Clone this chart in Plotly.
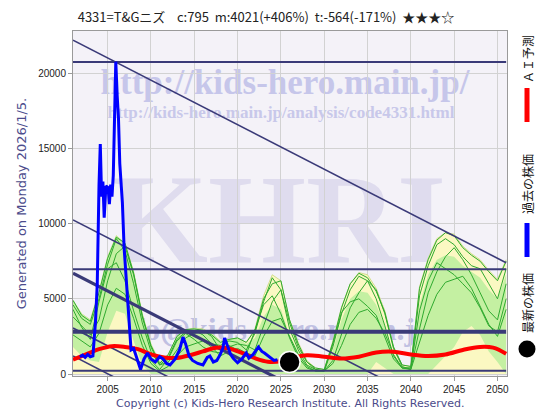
import plotly.graph_objects as go

# ---------------- data ----------------
YEARS = list(range(2001, 2052))

YEL_TOP = [4900, 4000, 3600, 5500, 7800, 9200, 8700, 6800, 4000, 2000,
           800, 1300, 2500, 2950, 3050, 3000, 2700, 2200, 2300, 2400,
           2100, 3000, 5200, 6600, 6200, 3600, 2100, 900, 400, 300,
           2200, 4450, 6000, 6750, 6600, 5700, 4200, 1800, 600, 500,
           5800, 7700, 9000, 9400, 9300, 8500, 8000, 7600, 6900, 6300, 7600]
GRN_HI = [4900, 4000, 3600, 5500, 7800, 9200, 8700, 6800, 4000, 2000,
          800, 1300, 2500, 2950, 3050, 3000, 2700, 2200, 2300, 2400,
          2000, 2400, 3800, 4600, 4300, 2600, 1500, 600, 300, 200,
          1600, 3600, 5000, 5500, 5400, 4600, 3200, 1300, 400, 400,
          4600, 6600, 7600, 7900, 7800, 7200, 6800, 6400, 5600, 5000, 6600]
GRN_LO = [1800, 1200, 900, 800, 2800, 4200, 4000, 2200, 600, 0,
          0, 0, 0, 0, 0, 0, 0, 0, 0, 0,
          0, 0, 0, 0, 0, 0, 0, 0, 0, 0,
          0, 0, 0, 0, 0, 800, 400, 0, 0, 0,
          0, 0, 600, 1200, 1800, 2800, 3200, 2600, 1500, 800, 0]

SIM_1 = [4600, 3700, 3300, 5000, 7300, 9000, 8200, 6000, 3400, 1500,
         600, 1100, 2300, 2800, 2900, 2600, 2000, 1900, 2200, 2100,
         1600, 2700, 4800, 6400, 5600, 3000, 1600, 600, 300, 200,
         1800, 4000, 5600, 6500, 6200, 5000, 3200, 1200, 400, 400,
         5200, 7200, 8600, 9000, 8600, 7800, 7200, 7000, 6000, 5000, 7000]
SIM_2 = [3800, 3200, 2600, 3600, 6200, 8000, 8500, 6600, 3800, 1800,
         600, 800, 1600, 2400, 2700, 2900, 2500, 1600, 1800, 2000,
         1900, 1600, 3200, 4800, 5600, 3400, 1800, 800, 300, 200,
         900, 2600, 4400, 5400, 6200, 5600, 4000, 1700, 500, 300,
         3000, 5400, 6800, 7800, 8400, 7600, 6600, 5400, 4200, 3600, 6000]
SIM_3 = [4300, 3100, 2300, 4800, 7000, 7400, 6200, 4200, 2400, 900,
         300, 1000, 2200, 2700, 2300, 1800, 1500, 1400, 1900, 1600,
         1300, 2900, 4600, 5200, 4000, 2400, 1100, 400, 200, 200,
         2000, 4100, 4800, 5000, 4500, 3900, 2500, 1000, 400, 400,
         4200, 6200, 7400, 7000, 6600, 6000, 5400, 4400, 3200, 2800, 5000]
SIM_4 = [2600, 2200, 1800, 2700, 4600, 5700, 5300, 3700, 1900, 700,
         200, 500, 1200, 1800, 2000, 2200, 1800, 1200, 1500, 1700,
         1400, 1200, 2500, 3500, 3700, 2500, 1300, 500, 200, 200,
         700, 1900, 3300, 4100, 4300, 3700, 2700, 1300, 400, 300,
         2100, 3900, 5300, 6100, 6300, 6500, 5700, 4500, 3300, 2500, 4300]
SIM_5 = [4900, 3900, 3500, 5400, 7700, 9100, 8700, 6700, 3900, 1900,
         700, 1300, 2500, 2950, 3000, 2900, 2600, 2100, 2300, 2400,
         2100, 2900, 5000, 6000, 6200, 3600, 2000, 800, 400, 300,
         2100, 4400, 6000, 6700, 6400, 5500, 4100, 1800, 600, 500,
         5700, 7600, 8900, 9400, 9200, 8400, 7900, 7500, 6800, 6200, 7500]
SIMS = [SIM_1, SIM_2, SIM_3, SIM_4, SIM_5]

RED_X = [2001, 2002.5, 2004, 2005.5, 2007, 2008.5, 2010, 2011.5, 2013, 2014.5,
         2016, 2017.5, 2019, 2020.5, 2022, 2023.5, 2025, 2026.5, 2028, 2030,
         2032, 2034, 2036, 2038, 2040, 2042, 2044, 2046, 2048, 2049.5, 2051]
RED_Y = [950, 1300, 1650, 1850, 1800, 1650, 1300, 1100, 1070, 1250,
         1500, 1750, 1700, 1400, 1050, 820, 850, 1100, 1250, 1150,
         1030, 1150, 1430, 1480, 1300, 1200, 1300, 1600, 1800, 1750, 1350]

BLUE_X = [2001.8, 2002.1, 2002.4, 2002.7, 2003.0, 2003.3, 2003.6, 2003.8, 2004.0, 2004.15,
          2004.3, 2004.45, 2004.6, 2004.8, 2005.05, 2005.2, 2005.35, 2005.5, 2005.65, 2005.8,
          2005.94, 2006.1, 2006.25, 2006.4, 2006.55, 2006.7, 2006.9, 2007.25, 2007.55, 2007.7,
          2008.0, 2008.4, 2008.8, 2009.2, 2009.6, 2010.0, 2010.5, 2011.0, 2011.4, 2011.8,
          2012.2, 2012.8, 2013.3, 2013.7, 2014.0, 2014.4, 2014.8, 2015.4, 2016.0, 2016.5,
          2016.8, 2017.2, 2017.6, 2018.0, 2018.3, 2018.5, 2018.8, 2019.2, 2019.5, 2020.0,
          2020.5, 2021.0, 2021.3, 2021.8, 2022.4, 2022.8, 2023.1, 2023.7, 2024.2, 2024.6]
BLUE_Y = [1150, 1250, 1100, 1300, 1150, 1200, 3500, 6000, 12500, 15300,
          11800, 12800, 10400, 12500, 12400, 11300, 12600, 11800, 13200, 17000,
          20770, 18500, 17000, 14000, 12800, 11400, 8400, 5100, 2500, 1600,
          1700, 1000, 300, 1000, 1400, 1000, 800, 1150, 1000, 700,
          600, 1000, 1600, 2450, 2000, 1200, 900, 700, 600, 1100,
          1200, 800, 900, 1300, 1700, 2400, 1900, 1300, 1050, 750,
          1000, 1400, 1050, 1300, 1800, 1500, 1400, 1150, 900, 950]

LATEST_X = [2026.0]
LATEST_Y = [795]

HLINES = [20750, 6960, 2810, 220]
HLINE_W = [2, 2, 4, 2]
DIAG_X = [2001, 2051]
DIAGS = [[22200, 7400], [10250, -4550], [6700, -8100], [3060, -11740], [1200, -13600]]
DIAG_W = [1.6, 1.6, 3.2, 1.6, 1.6]

X_TICKS = [2005, 2010, 2015, 2020, 2025, 2030, 2035, 2040, 2045, 2050]
Y_TICKS = [0, 5000, 10000, 15000, 20000]

TITLE = "4331=T&amp;Gニズ\u00a0\u00a0\u00a0 c:795\u00a0\u00a0m:4021(+406%)\u00a0\u00a0t:-564(-171%)\u00a0\u00a0★★★☆"

NAVY = '#3a3a78'

fig = go.Figure()

# yellow envelope
fig.add_trace(go.Scatter(x=YEARS, y=YEL_TOP, mode='lines', fill='tozeroy',
                         fillcolor='#fbf8c2', line=dict(color='#c8d878', width=0.8)))
# green band
fig.add_trace(go.Scatter(x=YEARS, y=GRN_LO, mode='lines', line=dict(width=0, color='rgba(0,0,0,0)')))
fig.add_trace(go.Scatter(x=YEARS, y=GRN_HI, mode='lines', fill='tonexty',
                         fillcolor='#c4f0a2', line=dict(width=0, color='rgba(0,0,0,0)')))
for s in SIMS:
    fig.add_trace(go.Scatter(x=YEARS, y=s, mode='lines', line=dict(color='#2faa2f', width=1)))

for h, w in zip(HLINES, HLINE_W):
    fig.add_trace(go.Scatter(x=DIAG_X, y=[h, h], mode='lines', line=dict(color=NAVY, width=w)))
for d, w in zip(DIAGS, DIAG_W):
    fig.add_trace(go.Scatter(x=DIAG_X, y=d, mode='lines', line=dict(color=NAVY, width=w)))

fig.add_trace(go.Scatter(x=RED_X, y=RED_Y, mode='lines', line=dict(color='#ff0000', width=4, shape='spline')))
fig.add_trace(go.Scatter(x=BLUE_X, y=BLUE_Y, mode='lines', line=dict(color='#0000ff', width=3)))
fig.add_trace(go.Scatter(x=LATEST_X, y=LATEST_Y, mode='markers',
                         marker=dict(color='black', size=21, line=dict(color='white', width=1.5))))

# ---------------- layout ----------------
L, R, T, B = 73, 507, 31, 376
PW, PH = R - L, B - T
def px(x): return (x - L) / PW
def py(y): return (B - y) / PH

shapes = []
def wm(text, cx, cy, size, color):
    shapes.append(dict(type='rect', xref='paper', yref='paper', layer='below',
                       x0=px(cx) - 0.01, x1=px(cx) + 0.01, y0=py(cy) - 0.01, y1=py(cy) + 0.01,
                       line=dict(width=0), fillcolor='rgba(0,0,0,0)',
                       label=dict(text=text, textposition='middle center',
                                  font=dict(family='Liberation Serif', size=size, color=color))))

wm('<b>KHRI</b>', 278, 205, 126, '#dfdcee')
wm('<b>http://kids-hero.main.jp/</b>', 285, 78, 35, '#c6c6ea')
wm('<b>http://kids-hero.main.jp/analysis/code4331.html</b>', 281, 110, 17, '#c8c8ea')
wm('<b>info@kids-hero.main.jp</b>', 270, 326, 32, '#c0c0e2')

# legend marks on the right
LX = px(527)
shapes.append(dict(type='line', xref='paper', yref='paper', x0=LX, x1=LX, y0=py(88), y1=py(122),
                   line=dict(color='#ff0000', width=5)))
shapes.append(dict(type='line', xref='paper', yref='paper', x0=LX, x1=LX, y0=py(223), y1=py(257),
                   line=dict(color='#0000ff', width=5)))
shapes.append(dict(type='circle', xref='paper', yref='paper', xsizemode='pixel', ysizemode='pixel',
                   xanchor=LX, yanchor=py(349), x0=-8.5, x1=8.5, y0=-8.5, y1=8.5,
                   fillcolor='black', line=dict(width=0)))

def note(text, x, y, **kw):
    d = dict(text=text, xref='paper', yref='paper', x=x, y=y, showarrow=False,
             xanchor='center', yanchor='middle')
    d.update(kw)
    return d

legend_font = dict(family='Noto Sans CJK JP', size=12, color='#111')
annotations = [
    note('ＡＩ予測', LX, py(59), textangle=-90, font=legend_font),
    note('過去の株価', LX, py(184), textangle=-90, font=legend_font),
    note('最新の株価', LX, py(303), textangle=-90, font=legend_font),
    note('Copyright (c) Kids-Hero Research Institute. All Rights Reserved.', px(290), py(403),
         font=dict(family='DejaVu Sans', size=11, color='#4a4a8a')),
]

axis_common = dict(showgrid=True, gridcolor='#d2d2d2', gridwidth=1, zeroline=False,
                   showline=True, mirror=True, linecolor='#9a9a9a', linewidth=1,
                   ticks='outside', ticklen=4, tickcolor='#9a9a9a',
                   tickfont=dict(family='Liberation Sans', size=10, color='#222'))

fig.update_layout(
    width=560, height=420, autosize=False,
    margin=dict(l=L, r=560 - R, t=T, b=420 - B),
    paper_bgcolor='white', plot_bgcolor='#f4f2f8',
    showlegend=False,
    title=dict(text=TITLE, x=266 / 560, xanchor='center', y=1 - 17 / 420, yanchor='middle',
               font=dict(family='Noto Sans CJK JP', size=13, color='#222')),
    xaxis=dict(range=[2001, 2051.1], tickvals=X_TICKS, tickformat='d', automargin=False, **axis_common),
    yaxis=dict(range=[-133, 22810], tickvals=Y_TICKS, tickformat='d', automargin=False,
               title=dict(text='Generated on Monday 2026/1/5.', standoff=8,
                          font=dict(family='DejaVu Sans', size=13, color='#4c4c8c')),
               **axis_common),
    shapes=shapes,
    annotations=annotations,
)

fig.write_html("out.html", config={'displayModeBar': False},
               post_script="document.body.style.margin='0px';")
